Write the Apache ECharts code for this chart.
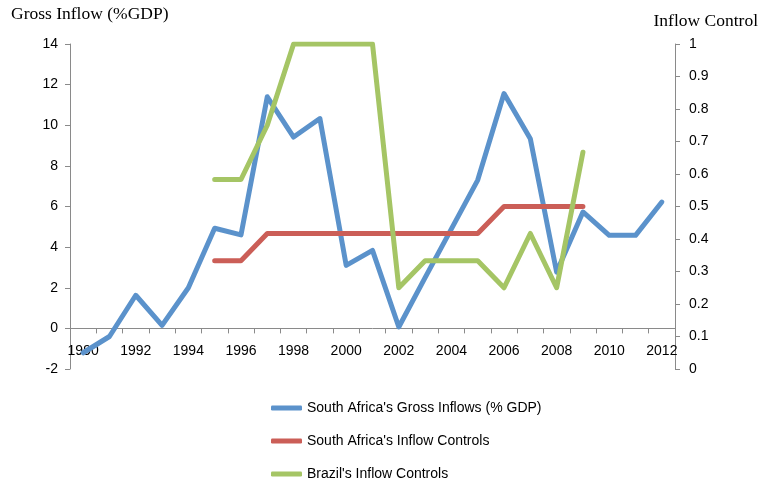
<!DOCTYPE html>
<html><head><meta charset="utf-8">
<script src="https://cdn.jsdelivr.net/npm/echarts@6/dist/echarts.min.js"></script>
<style>html,body{margin:0;padding:0;background:#fff}#c{width:759px;height:489px}</style>
</head><body><div id="c"></div>
<script>
var years = ['1990','1991','1992','1993','1994','1995','1996','1997','1998','1999','2000','2001','2002','2003','2004','2005','2006','2007','2008','2009','2010','2011','2012'];
var saGross = [-1.2,-0.4,1.63,0.15,2.0,4.93,4.6,11.4,9.42,10.33,3.1,3.84,0.07,2.5,4.9,7.3,11.56,9.34,2.77,5.73,4.58,4.58,6.22];
var saControls = [null,null,null,null,null,0.333,0.333,0.4167,0.4167,0.4167,0.4167,0.4167,0.4167,0.4167,0.4167,0.4167,0.5,0.5,0.5,0.5,null,null,null];
var brControls = [null,null,null,null,null,0.583,0.583,0.75,1,1,1,1,0.25,0.333,0.333,0.333,0.25,0.417,0.25,0.667,null,null,null];
var seriesNames = ["South Africa's Gross Inflows (% GDP)","South Africa's Inflow Controls","Brazil's Inflow Controls"];
var colors = ['#5B92CB','#CB5E57','#A5C565'];

var chart = echarts.init(document.getElementById('c'));
var axisColor = '#8A8A8A';
var sans = 'Liberation Sans';
function legendAt(i, top){
  return {data:[seriesNames[i]], left:271, top:top, padding:0, icon:'roundRect', itemWidth:31, itemHeight:5,
    textStyle:{fontFamily:sans, fontSize:14, color:'#000'}};
}
chart.setOption({
  animation:false,
  title:[
    {text:'Gross Inflow (%GDP)', left:11, top:5, padding:0, textStyle:{fontFamily:'Liberation Serif', fontSize:17.5, fontWeight:'normal', color:'#000'}},
    {text:'Inflow Control', right:1, top:12, padding:0, textStyle:{fontFamily:'Liberation Serif', fontSize:17.5, fontWeight:'normal', color:'#000'}}
  ],
  legend:[legendAt(0,401), legendAt(1,434), legendAt(2,467)],
  grid:{left:70, right:84, top:44, bottom:120},
  xAxis:{type:'category', data:years, boundaryGap:true, offset:-40.6,
    axisLine:{onZero:false, lineStyle:{color:axisColor, width:1}},
    axisTick:{show:true, interval:0, length:5, lineStyle:{color:axisColor}},
    axisLabel:{interval:1, margin:16, fontFamily:sans, fontSize:14, color:'#000'},
    splitLine:{show:false}},
  yAxis:[
    {type:'value', min:-2, max:14, interval:2, position:'left',
      axisLine:{show:true, lineStyle:{color:axisColor}},
      axisTick:{show:true, length:5, lineStyle:{color:axisColor}},
      axisLabel:{margin:12, fontFamily:sans, fontSize:14, color:'#000'},
      splitLine:{show:false}},
    {type:'value', min:0, max:1, interval:0.1, position:'right',
      axisLine:{show:true, lineStyle:{color:axisColor}},
      axisTick:{show:true, length:5, lineStyle:{color:axisColor}},
      axisLabel:{margin:14, fontFamily:sans, fontSize:14, color:'#000',
        formatter:function(v){return String(Math.round(v*10)/10);}},
      splitLine:{show:false}}
  ],
  series:[
    {name:seriesNames[0], type:'line', yAxisIndex:0, data:saGross, symbol:'none', color:colors[0],
      lineStyle:{width:5, color:colors[0], cap:'round', join:'round'}},
    {name:seriesNames[1], type:'line', yAxisIndex:1, data:saControls, symbol:'none', color:colors[1],
      lineStyle:{width:5, color:colors[1], cap:'round', join:'round'}},
    {name:seriesNames[2], type:'line', yAxisIndex:1, data:brControls, symbol:'none', color:colors[2],
      lineStyle:{width:5, color:colors[2], cap:'round', join:'round'}}
  ]
});
</script></body></html>
